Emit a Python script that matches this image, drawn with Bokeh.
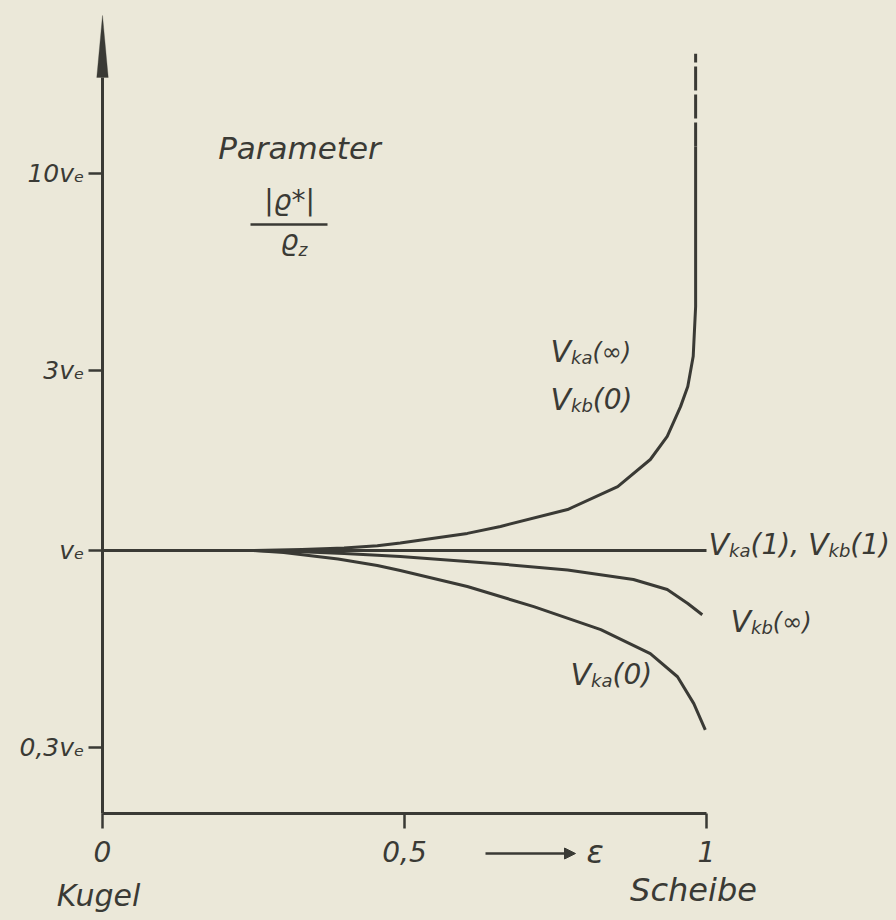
from bokeh.plotting import figure
from bokeh.models import Range1d, FixedTicker, Label, Arrow, NormalHead, PolyAnnotation
from bokeh.embed import file_html
from bokeh.resources import INLINE

# ---------------- data ----------------
eps_ka_inf = [0.0, 0.15, 0.25, 0.33, 0.40, 0.455, 0.493, 0.604, 0.659, 0.770, 0.853, 0.907, 0.935, 0.957, 0.969, 0.978, 0.982, 0.982]
v_ka_inf = [1.0, 1.0, 1.0, 1.006, 1.015, 1.030, 1.047, 1.11, 1.158, 1.284, 1.477, 1.742, 2.005, 2.405, 2.72, 3.27, 4.43, 11.75]
eps_ka_inf_dash = [0.982, 0.982]
v_ka_inf_dash = [11.75, 20.7]

eps_flat = [0.0, 1.0]
v_flat = [1.0, 1.0]

eps_kb_inf = [0.0, 0.15, 0.25, 0.33, 0.40, 0.455, 0.493, 0.659, 0.770, 0.879, 0.935, 0.969, 0.993]
v_kb_inf = [1.0, 1.0, 1.0, 0.993, 0.982, 0.972, 0.964, 0.921, 0.888, 0.838, 0.788, 0.724, 0.676]

eps_ka_0 = [0.0, 0.15, 0.25, 0.30, 0.39, 0.455, 0.493, 0.604, 0.714, 0.825, 0.907, 0.952, 0.979, 0.998]
v_ka_0 = [1.0, 1.0, 1.0, 0.988, 0.949, 0.913, 0.885, 0.803, 0.710, 0.617, 0.533, 0.463, 0.393, 0.335]

y_ticks = [0.3, 1, 3, 10]
y_tick_labels = ["0,3vₑ", "vₑ", "3vₑ", "10vₑ"]
x_ticks = [0, 0.5, 1]
x_tick_labels = ["0", "0,5", "1"]

# ---------------- style / geometry ----------------
INK = "#3a3a35"
PAPER = "#ebe8d9"
FONT = "DejaVu Sans"

W, H = 896, 920                 # the frame fills the whole figure
X0_COL = 102.0                  # pixel column of eps = 0
PX_PER_EPS = 604.0
VE_ROW = 550.0                  # pixel row of v_e
PX_PER_DEC = 377.5
XAXIS_ROW = 813.0
LABEL_LIFT = 11                 # baseline correction for Label placement


def ax(px):
    return (px - X0_COL) / PX_PER_EPS


def ay(py):
    return 10 ** ((VE_ROW - py) / PX_PER_DEC)


p = figure(width=W, height=H, x_range=Range1d(ax(0), ax(W)), y_range=Range1d(ay(H), ay(0)),
           y_axis_type="log", output_backend="svg", toolbar_location=None,
           min_border=0, min_border_left=0, min_border_right=0, min_border_top=0,
           min_border_bottom=0, background_fill_color=PAPER,
           border_fill_color=PAPER, outline_line_color=None)
p.grid.visible = False

y_axis_bottom = ay(XAXIS_ROW)
arrow_base = ay(77)
arrow_tip = ay(15)

for axis in (p.xaxis, p.yaxis):
    axis.axis_line_color = INK
    axis.axis_line_width = 3
    axis.major_tick_line_color = INK
    axis.major_tick_line_width = 2.5
    axis.major_tick_in = 0
    axis.minor_tick_line_color = None
    axis.major_label_text_color = INK
    axis.major_label_text_font = FONT
    axis.major_label_text_font_style = "italic"

p.xaxis.fixed_location = y_axis_bottom
p.xaxis.ticker = FixedTicker(ticks=x_ticks, minor_ticks=[])
p.xaxis.major_label_overrides = dict(zip(x_ticks, x_tick_labels))
p.xaxis.bounds = (0, 1)
p.xaxis.major_tick_out = 15
p.xaxis.major_label_standoff = 12
p.xaxis.major_label_text_font_size = "28px"

p.yaxis.fixed_location = 0
p.yaxis.ticker = FixedTicker(ticks=y_ticks, minor_ticks=[])
p.yaxis.major_label_overrides = dict(zip(y_ticks, y_tick_labels))
p.yaxis.bounds = (y_axis_bottom, arrow_base)
p.yaxis.major_tick_out = 14
p.yaxis.major_label_standoff = 4
p.yaxis.major_label_text_font_size = "25px"

# arrow head on the y axis
p.add_layout(PolyAnnotation(xs=[-0.0095, 0.0095, 0.0], ys=[arrow_base, arrow_base, arrow_tip],
                            fill_color=INK, fill_alpha=1.0, line_color=INK, line_width=1))

# ---------------- curves ----------------
LW = 3
p.line(eps_ka_inf, v_ka_inf, line_color=INK, line_width=LW, line_join="round")
p.line(eps_ka_inf_dash, v_ka_inf_dash, line_color=INK, line_width=LW, line_dash="24 4")
p.line(eps_flat, v_flat, line_color=INK, line_width=LW)
p.line(eps_kb_inf, v_kb_inf, line_color=INK, line_width=LW, line_join="round")
p.line(eps_ka_0, v_ka_0, line_color=INK, line_width=LW, line_join="round")

# ---------------- texts ----------------
ADV = {"V": .684, "k": .579, "a": .613, "b": .635, "(": .390, ")": .390, "∞": .833,
       "0": .636, "1": .636, ",": .318, " ": .318, "ϱ": .64, "|": .337, "*": .5, "z": .525}


def tw(s, size):
    return sum(ADV.get(c, 0.6) for c in s) * size


def label(px, py, txt, size, align="left", xoff=0, yoff=0):
    p.add_layout(Label(x=ax(px), y=ay(py), x_offset=xoff, y_offset=yoff + LABEL_LIFT, text=txt,
                       text_font=FONT, text_font_style="italic", text_font_size=f"{size}px",
                       text_color=INK, text_align=align, text_baseline="alphabetic"))


def rich(px, py, parts):
    off = 0.0
    for txt, size, dy in parts:
        label(px, py, txt, size, xoff=off, yoff=dy)
        off += tw(txt, size)


V, SUB, PAR = 30, 18, 28
rich(550, 362, [("V", V, 0), ("ka", SUB, -6), ("(∞)", 24, 0)])
rich(550, 410, [("V", V, 0), ("kb", SUB, -6), ("(0)", PAR, 0)])
rich(708, 555, [("V", V, 0), ("ka", SUB, -6), ("(1), ", PAR, 0),
                ("V", V, 0), ("kb", SUB, -6), ("(1)", PAR, 0)])
rich(730, 632, [("V", V, 0), ("kb", SUB, -6), ("(∞)", 24, 0)])
rich(570, 685, [("V", V, 0), ("ka", SUB, -6), ("(0)", PAR, 0)])

label(299, 158, "Parameter", 31, align="center")
label(289, 211, "|ϱ*|", 28, align="center")
p.segment(x0=[ax(250)], y0=[ay(224)], x1=[ax(327)], y1=[ay(224)], line_color=INK, line_width=2.5)
rich(280, 251, [("ϱ", 28, 0), ("z", 17, -9)])

label(98, 906, "Kugel", 30, align="center")
label(693, 900, "Scheibe", 32, align="center")
p.add_layout(Arrow(x_start=ax(485), y_start=ay(853), x_end=ax(575), y_end=ay(853),
                   line_color=INK, line_width=2.5,
                   end=NormalHead(size=11, fill_color=INK, line_color=INK)))
label(586, 862, "ε", 32)

html = file_html(p, INLINE, title="Vka Vkb")
i = html.rfind("</head>")
html = html[:i] + "<style>body{background:%s;}</style>" % PAPER + html[i:]
open("out.html", "w").write(html)
